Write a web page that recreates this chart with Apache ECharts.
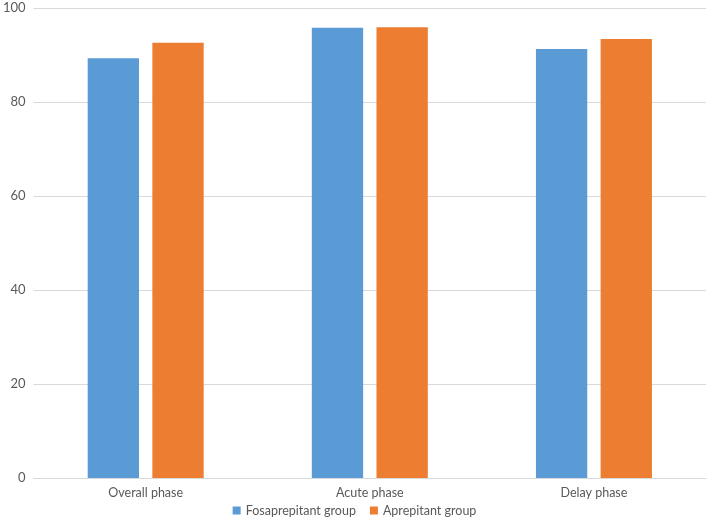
<!DOCTYPE html>
<html><head><meta charset="utf-8">
<script src="https://cdn.jsdelivr.net/npm/echarts@6/dist/echarts.min.js"></script>
<style>html,body{margin:0;padding:0;background:#fff}#c{width:709px;height:522px}</style>
</head><body><div id="c"></div>
<script>
const categories = ['Overall phase', 'Acute phase', 'Delay phase'];
const fosaprepitant = [89.3, 95.8, 91.3];
const aprepitant = [92.6, 95.9, 93.4];
const yTicks = [0, 20, 40, 60, 80, 100];

const font = 'Lato, "Open Sans", sans-serif';
const chart = echarts.init(document.getElementById('c'));
chart.setOption({
  animation: false,
  textStyle: { fontFamily: font },
  grid: { left: 30, right: 3, top: 8, bottom: 44 },
  legend: {
    bottom: 0, left: 'center', itemWidth: 8, itemHeight: 8, itemGap: 14,
    icon: 'rect',
    textStyle: { color: '#595959', fontSize: 12.5, fontFamily: font },
    data: ['Fosaprepitant group', 'Aprepitant group']
  },
  xAxis: {
    type: 'category', data: categories,
    axisLine: { lineStyle: { color: '#d9d9d9', width: 1 } },
    axisTick: { show: false },
    axisLabel: { color: '#595959', fontSize: 12.5, margin: 8, fontFamily: font }
  },
  yAxis: {
    type: 'value', min: yTicks[0], max: yTicks[yTicks.length - 1], interval: 20,
    axisLine: { show: false }, axisTick: { show: false },
    splitLine: { lineStyle: { color: '#d9d9d9', width: 1 } },
    axisLabel: { color: '#595959', fontSize: 13, margin: 8, fontFamily: font }
  },
  series: [
    { name: 'Fosaprepitant group', type: 'bar', data: fosaprepitant,
      barWidth: '22.9%', barGap: '26%', itemStyle: { color: '#5b9bd5' } },
    { name: 'Aprepitant group', type: 'bar', data: aprepitant,
      barWidth: '22.9%', barGap: '26%', itemStyle: { color: '#ed7d31' } }
  ]
});
</script></body></html>
